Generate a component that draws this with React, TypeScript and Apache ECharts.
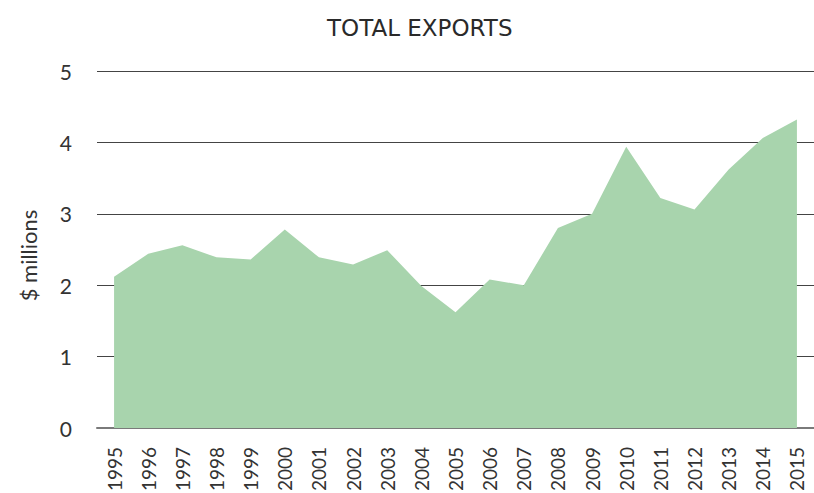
import React, { useEffect, useRef } from "react";
import * as echarts from "echarts";

const years = ["1995","1996","1997","1998","1999","2000","2001","2002","2003","2004","2005","2006","2007","2008","2009","2010","2011","2012","2013","2014","2015"];
const exportsValues = [2.12, 2.44, 2.56, 2.39, 2.36, 2.78, 2.39, 2.29, 2.49, 1.99, 1.62, 2.08, 2.0, 2.8, 3.0, 3.94, 3.22, 3.06, 3.62, 4.06, 4.32];
const yTicks = [0, 1, 2, 3, 4, 5];

export default function App() {
  const ref = useRef<HTMLDivElement>(null);
  useEffect(() => {
    if (!ref.current) return;
    const chart = echarts.init(ref.current, null, { renderer: "svg" });
    const font = "Lato, 'Open Sans', sans-serif";
    chart.setOption({
      animation: false,
      backgroundColor: "#ffffff",
      title: {
        text: "TOTAL EXPORTS",
        left: 322,
        top: 11,
        textStyle: { fontFamily: "'DejaVu Sans', sans-serif", fontSize: 23, fontWeight: "normal", color: "#2a2a2a" },
      },
      grid: { left: 97, right: 0, top: 71, bottom: 65, outerBoundsMode: "none", containLabel: false },
      xAxis: {
        type: "category",
        data: years,
        boundaryGap: true,
        axisLine: { lineStyle: { color: "#7a7a7a", width: 2 } },
        axisTick: { show: false },
        axisLabel: { rotate: 90, margin: 19, fontFamily: font, fontSize: 19, color: "#333" },
      },
      yAxis: {
        type: "value",
        min: yTicks[0],
        max: yTicks[yTicks.length - 1],
        interval: 1,
        name: "$ millions",
        nameLocation: "middle",
        nameGap: 58,
        nameTextStyle: { fontFamily: font, fontSize: 22, color: "#333", padding: [0, 12, 0, 0] },
        axisLine: { show: false },
        axisTick: { show: false },
        axisLabel: { margin: 25, fontFamily: font, fontSize: 21, color: "#333" },
        splitLine: { lineStyle: { color: "#444", width: 1 } },
      },
      series: [
        {
          type: "line",
          data: exportsValues,
          symbol: "none",
          lineStyle: { width: 0 },
          areaStyle: { color: "#a8d4ad", opacity: 1 },
          z: 3,
        },
      ],
    });
    return () => chart.dispose();
  }, []);
  return <div ref={ref} style={{ position: "fixed", left: 0, top: 0, width: 814, height: 493 }} />;
}
